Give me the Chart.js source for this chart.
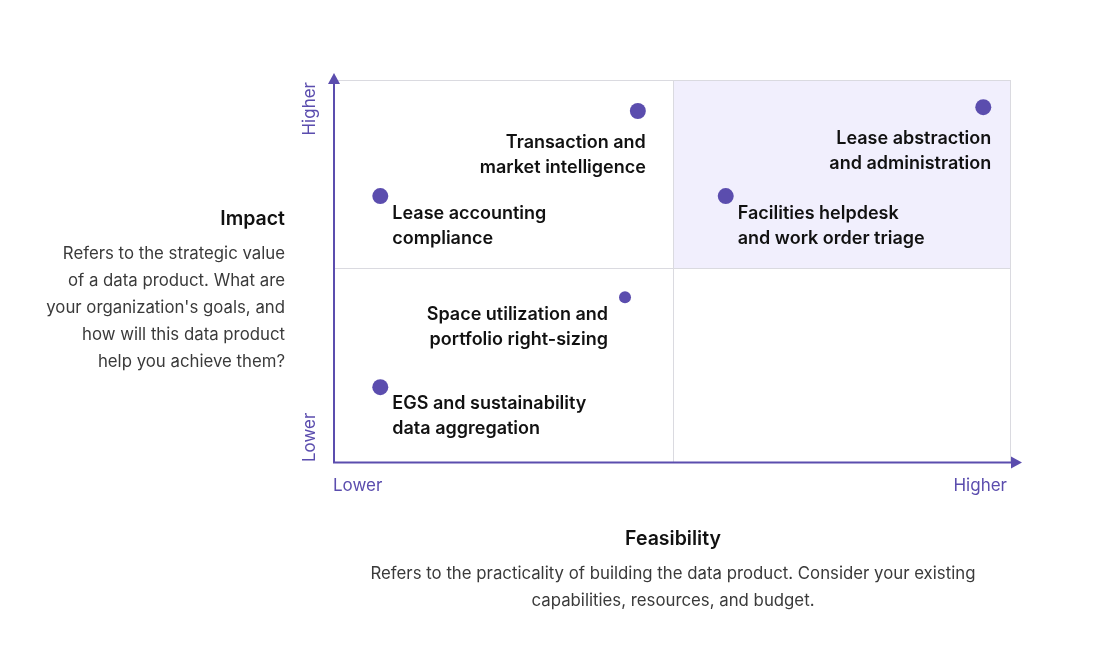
<!DOCTYPE html>
<html>
<head>
<meta charset="utf-8">
<script src="https://cdn.jsdelivr.net/npm/chart.js@4.4.1/dist/chart.umd.min.js"></script>
<style>
  html, body { margin: 0; padding: 0; background: #fff; }
  #wrap { width: 1093px; height: 659px; position: relative; }
</style>
</head>
<body>
<div id="wrap"><canvas id="matrix"></canvas></div>
<script>
// data products, feasibility (x) and impact (y) on a 0-100 scale
var products = [
  'Transaction and\nmarket intelligence',
  'Lease accounting\ncompliance',
  'Lease abstraction\nand administration',
  'Facilities helpdesk\nand work order triage',
  'Space utilization and\nportfolio right-sizing',
  'EGS and sustainability\ndata aggregation'
];
var feasibility = [44.8, 6.7, 95.9, 57.8, 42.9, 6.7];
var impact = [91.9, 69.7, 92.9, 69.7, 43.3, 19.8];
var axisTicks = ['Lower', 'Higher'];
var feasibilitySplit = 50;
var impactSplit = 51;

var purple = '#5b4dae';
var gridGray = '#dadae0';
var font = 'Inter, "Noto Sans", sans-serif';

// where each label sits relative to its dot
var labelPlace = [
  { align: 'right', dx: 8, dy: 31.5 },
  { align: 'left', dx: 12, dy: 17.5 },
  { align: 'right', dx: 8, dy: 31.5 },
  { align: 'left', dx: 12, dy: 17.5 },
  { align: 'right', dx: -17, dy: 17 },
  { align: 'left', dx: 12, dy: 16.5 }
];

const quadrantPlugin = {
  id: 'quadrant',
  beforeDatasetsDraw(chart) {
    const ctx = chart.ctx;
    const x = chart.scales.x, y = chart.scales.y;
    const x0 = x.getPixelForValue(0), xm = Math.round(x.getPixelForValue(feasibilitySplit)), x1 = x.getPixelForValue(100);
    const y0 = y.getPixelForValue(0), ym = Math.round(y.getPixelForValue(impactSplit)), y1 = y.getPixelForValue(100);
    ctx.save();
    // highlighted quadrant
    ctx.fillStyle = '#f1effd';
    ctx.fillRect(xm, y1, x1 - xm, ym - y1);
    // grid + frame
    ctx.strokeStyle = gridGray;
    ctx.lineWidth = 1;
    ctx.beginPath();
    ctx.moveTo(x0, y1 + 0.5); ctx.lineTo(x1, y1 + 0.5);
    ctx.moveTo(x1 - 0.5, y1); ctx.lineTo(x1 - 0.5, y0);
    ctx.moveTo(xm + 0.5, y1); ctx.lineTo(xm + 0.5, y0);
    ctx.moveTo(x0, ym + 0.5); ctx.lineTo(x1, ym + 0.5);
    ctx.stroke();
    // axes with arrows
    ctx.strokeStyle = purple;
    ctx.fillStyle = purple;
    ctx.lineWidth = 2;
    ctx.beginPath();
    ctx.moveTo(x0 - 1, y0);
    ctx.lineTo(x0 - 1, y1 + 3);
    ctx.moveTo(x0 - 2, y0 - 0.5);
    ctx.lineTo(x1 + 1, y0 - 0.5);
    ctx.stroke();
    ctx.beginPath();
    ctx.moveTo(x0 - 1, y1 - 7);
    ctx.lineTo(x0 - 7, y1 + 4);
    ctx.lineTo(x0 + 5, y1 + 4);
    ctx.closePath();
    ctx.fill();
    ctx.beginPath();
    ctx.moveTo(x1 + 11, y0 - 0.5);
    ctx.lineTo(x1, y0 - 6.5);
    ctx.lineTo(x1, y0 + 5.5);
    ctx.closePath();
    ctx.fill();

    // Lower / Higher ticks
    ctx.font = '17px ' + font;
    ctx.textBaseline = 'middle';
    ctx.textAlign = 'left';
    ctx.fillText(axisTicks[0], x0 - 2, y0 + 23);
    ctx.textAlign = 'right';
    ctx.fillText(axisTicks[1], x1 - 4, y0 + 23);
    ctx.save();
    ctx.translate(x0 - 25, y0);
    ctx.rotate(-Math.PI / 2);
    ctx.textAlign = 'left';
    ctx.fillText(axisTicks[0], 1, 0);
    ctx.restore();
    ctx.save();
    ctx.translate(x0 - 25, y1);
    ctx.rotate(-Math.PI / 2);
    ctx.textAlign = 'right';
    ctx.fillText(axisTicks[1], -2, 0);
    ctx.restore();

    // axis titles and descriptions
    ctx.fillStyle = '#111';
    ctx.font = '600 19.5px ' + font;
    ctx.textAlign = 'right';
    ctx.fillText('Impact', 285, 219.5);
    ctx.font = '16.8px ' + font;
    ctx.fillStyle = '#3a3a3a';
    ['Refers to the strategic value', 'of a data product. What are', "your organization's goals, and",
     'how will this data product', 'help you achieve them?'].forEach(function (t, i) {
      ctx.fillText(t, 285, 253.5 + i * 27);
    });
    ctx.fillStyle = '#111';
    ctx.font = '600 19.5px ' + font;
    ctx.textAlign = 'center';
    ctx.fillText('Feasibility', xm, 539.5);
    ctx.font = '16.8px ' + font;
    ctx.fillStyle = '#3a3a3a';
    ctx.fillText('Refers to the practicality of building the data product. Consider your existing', xm, 573.5);
    ctx.fillText('capabilities, resources, and budget.', xm, 600.5);
    ctx.restore();
  },
  afterDatasetsDraw(chart) {
    const ctx = chart.ctx;
    const meta = chart.getDatasetMeta(0);
    ctx.save();
    ctx.font = '600 18px ' + font;
    ctx.fillStyle = '#111';
    ctx.textBaseline = 'middle';
    meta.data.forEach(function (pt, i) {
      const p = labelPlace[i];
      ctx.textAlign = p.align;
      products[i].split('\n').forEach(function (line, j) {
        ctx.fillText(line, pt.x + p.dx, pt.y + p.dy + j * 25);
      });
    });
    ctx.restore();
  }
};

const ctx = document.getElementById('matrix').getContext('2d');
new Chart(ctx, {
  type: 'scatter',
  data: {
    datasets: [{
      label: 'Data products',
      data: feasibility.map(function (v, i) { return { x: v, y: impact[i] }; }),
      backgroundColor: purple,
      borderWidth: 0,
      pointRadius: [8, 8, 8, 8, 6, 8],
      pointHoverRadius: [8, 8, 8, 8, 6, 8]
    }]
  },
  options: {
    responsive: true,
    maintainAspectRatio: false,
    animation: false,
    layout: { padding: { left: 335, right: 82, top: 80, bottom: 196 } },
    plugins: {
      legend: { display: false },
      tooltip: { enabled: false }
    },
    scales: {
      x: { display: false, min: 0, max: 100 },
      y: { display: false, min: 0, max: 100 }
    }
  },
  plugins: [quadrantPlugin]
});
</script>
</body>
</html>
